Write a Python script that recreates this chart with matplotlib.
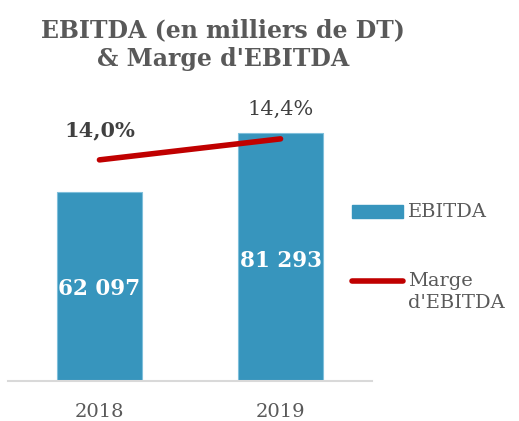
import matplotlib.pyplot as plt
from matplotlib.patches import Rectangle
from matplotlib.lines import Line2D

years = ['2018', '2019']
ebitda = [62097, 81293]
ebitda_labels = ['62 097', '81 293']
marge = [14.0, 14.4]
marge_labels = ['14,0%', '14,4%']

plt.rcParams['font.family'] = ['DejaVu Serif']

fig = plt.figure(figsize=(5.19, 4.21), dpi=100)
ax = fig.add_axes([8 / 519, 40 / 421, 364 / 519, 281 / 421])
x = range(len(years))

ax.bar(x, ebitda, width=0.47, color='#3795bd', edgecolor='#7fbfdb', linewidth=0.8, zorder=2)
for i, v in enumerate(ebitda):
    ax.text(i, v * 0.485, ebitda_labels[i], ha='center', va='center',
            color='white', fontsize=15.5, fontweight='bold')
ax.set_xlim(-0.505, 1.505)
ax.set_ylim(0, 92110)
ax.set_xticks(list(x))
ax.set_xticklabels(years, fontsize=14, color='#595959')
ax.tick_params(axis='x', length=0, pad=16)
ax.set_yticks([])
for s in ['top', 'right', 'left']:
    ax.spines[s].set_visible(False)
ax.spines['bottom'].set_color('#d9d9d9')
ax.spines['bottom'].set_linewidth(1.5)

ax2 = ax.twinx()
ax2.plot(x, marge, color='#c00000', linewidth=4, solid_capstyle='round', zorder=3)
ax2.set_ylim(9.79, 15.14)
ax2.set_yticks([])
for s in ax2.spines.values():
    s.set_visible(False)
ax2.text(0, marge[0] + 0.57, marge_labels[0], ha='center', va='center', fontsize=15,
         fontweight='bold', color='#404040')
ax2.text(1, marge[1] + 0.57, marge_labels[1], ha='center', va='center', fontsize=15,
         color='#404040')

fig.text(223 / 519, 1 - 45 / 421, "EBITDA (en milliers de DT)\n& Marge d'EBITDA", ha='center',
         va='center', fontsize=17, fontweight='bold', color='#595959', linespacing=1.25)

# legend
fig.patches.append(Rectangle((352 / 519, 1 - 218 / 421), 51 / 519, 13 / 421,
                             transform=fig.transFigure, color='#3795bd'))
fig.text(408 / 519, 1 - 212 / 421, 'EBITDA', va='center', fontsize=14, color='#595959')
fig.lines.append(Line2D([352 / 519, 403 / 519], [1 - 281 / 421, 1 - 281 / 421],
                        transform=fig.transFigure, color='#c00000', linewidth=4,
                        solid_capstyle='round'))
fig.text(408 / 519, 1 - 292 / 421, "Marge\nd'EBITDA", va='center', fontsize=14,
         color='#595959', linespacing=1.35)

fig.savefig('out.png', dpi=100)
